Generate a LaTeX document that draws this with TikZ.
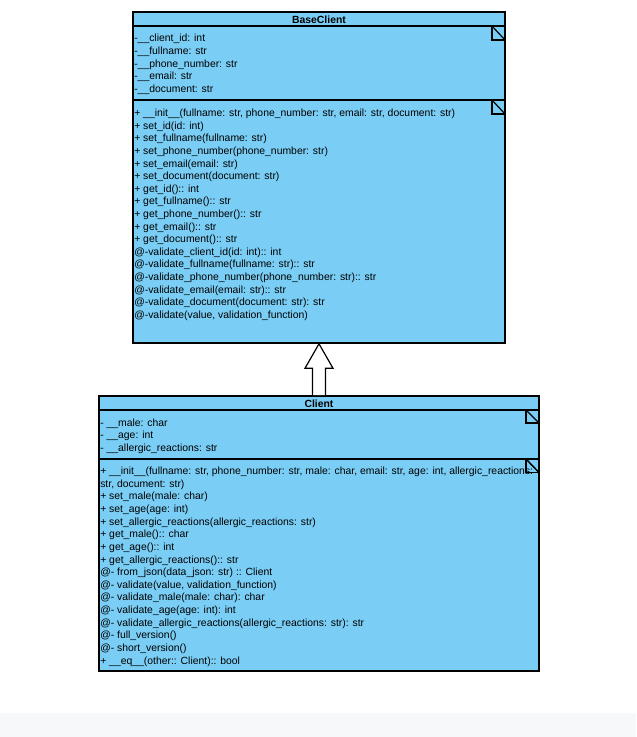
\documentclass[tikz,border=0pt]{standalone}
\usepackage{fontspec}
\setmainfont{Liberation Sans}
\usetikzlibrary{calc,fit}
\definecolor{cfill}{RGB}{122,206,245}
\definecolor{bgstrip}{RGB}{247,248,250}
\begin{document}
\begin{tikzpicture}[x=0.75pt,y=-0.75pt,
  classbox/.style={draw=black, fill=cfill, line width=1.2pt, inner sep=0pt},
  sep/.style={draw=black, line width=1.2pt},
  noteicon/.style={draw=black, line width=0.9pt},
  txt/.style={anchor=base west, inner sep=0pt, font=\fontsize{7.8}{9}\selectfont},
  ttl/.style={inner sep=0pt, font=\fontsize{7.8}{9}\selectfont\bfseries},
  genarrow/.style={draw=black, fill=white, line width=0.9pt, line join=miter}]
\useasboundingbox (0,0) rectangle (636,737);
\fill[bgstrip] (0,713) rectangle (636,737);

% BaseClient
\node[classbox, fit={(133,12) (505,343)}] (base) {};
\draw[sep] (133,26) -- (505,26);
\draw[sep] (133,100) -- (505,100);
\draw[noteicon] (492,26) -- (492,40) -- (505,40);
\draw[noteicon] (492,26) -- (505,40);
\draw[noteicon] (492,100) -- (492,114) -- (505,114);
\draw[noteicon] (492,100) -- (505,114);
\node[ttl] (basettl) at (319,19.5) {BaseClient};

\foreach \t [count=\i from 0] in {
  {-\_\_client\_id: int},
  {-\_\_fullname: str},
  {-\_\_phone\_number: str},
  {-\_\_email: str},
  {-\_\_document: str}}
  {\node[txt] (ba\i) at (134,{38+12.55*\i+4}) {\t};}

\foreach \t [count=\i from 0] in {
  {+ \_\_init\_\_(fullname: str, phone\_number: str, email: str, document: str)},
  {+ set\_id(id: int)},
  {+ set\_fullname(fullname: str)},
  {+ set\_phone\_number(phone\_number: str)},
  {+ set\_email(email: str)},
  {+ set\_document(document: str)},
  {+ get\_id():: int},
  {+ get\_fullname():: str},
  {+ get\_phone\_number():: str},
  {+ get\_email():: str},
  {+ get\_document():: str},
  {@-validate\_client\_id(id: int):: int},
  {@-validate\_fullname(fullname: str):: str},
  {@-validate\_phone\_number(phone\_number: str):: str},
  {@-validate\_email(email: str):: str},
  {@-validate\_document(document: str): str},
  {@-validate(value, validation\_function)}}
  {\node[txt] (bm\i) at (134,{112.7+12.6*\i+4}) {\t};}

% Client
\node[classbox, fit={(99,396) (539,671)}] (client) {};
\draw[sep] (99,410) -- (539,410);
\draw[sep] (99,459) -- (539,459);
\draw[noteicon] (526,410) -- (526,423) -- (539,423);
\draw[noteicon] (526,410) -- (539,423);
\draw[noteicon] (526,459) -- (526,472.5) -- (539,472.5);
\draw[noteicon] (526,459) -- (539,472.5);
\node[ttl] (clientttl) at (319,403.5) {Client};

\foreach \t [count=\i from 0] in {
  {- \_\_male: char},
  {- \_\_age: int},
  {- \_\_allergic\_reactions: str}}
  {\node[txt] (ca\i) at (100,{422.3+12.5*\i+4}) {\t};}

\foreach \t [count=\i from 0] in {
  {+ \_\_init\_\_(fullname: str, phone\_number: str, male: char, email: str, age: int, allergic\_reactions:},
  {str, document: str)},
  {+ set\_male(male: char)},
  {+ set\_age(age: int)},
  {+ set\_allergic\_reactions(allergic\_reactions: str)},
  {+ get\_male():: char},
  {+ get\_age():: int},
  {+ get\_allergic\_reactions():: str},
  {@- from\_json(data\_json: str) :: Client},
  {@- validate(value, validation\_function)},
  {@- validate\_male(male: char): char},
  {@- validate\_age(age: int): int},
  {@- validate\_allergic\_reactions(allergic\_reactions: str): str},
  {@- full\_version()},
  {@- short\_version()},
  {+ \_\_eq\_\_(other:: Client):: bool}}
  {\node[txt] (cm\i) at (100,{470.7+12.62*\i+4}) {\t};}

% redraw note icon on top of wrapped text
\draw[noteicon] (526,459) -- (526,472.5) -- (539,472.5);
\draw[noteicon] (526,459) -- (539,472.5);

% generalization arrow
\draw[genarrow] ($(client.north)+(-6.5,0)$) -- ($(base.south)+(-6.5,24.5)$)
  -- ($(base.south)+(-14,24.5)$) -- (base.south) -- ($(base.south)+(14,24.5)$)
  -- ($(base.south)+(6.5,24.5)$) -- ($(client.north)+(6.5,0)$);
\end{tikzpicture}
\end{document}
